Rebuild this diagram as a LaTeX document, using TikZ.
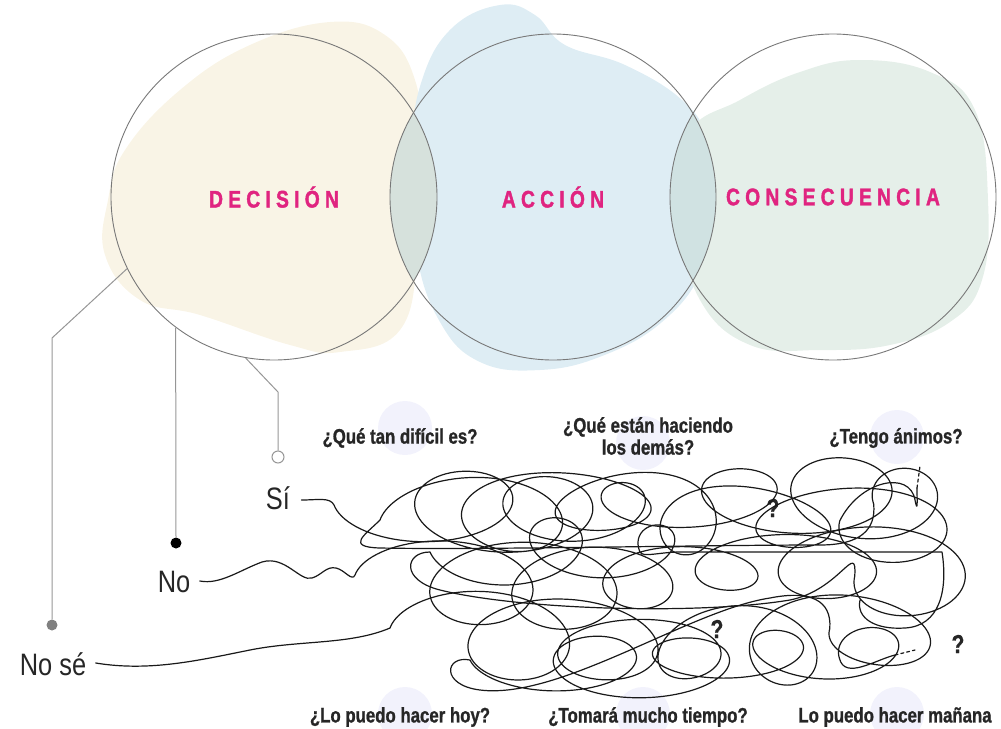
\documentclass[tikz,border=0pt]{standalone}
\usepackage{fontspec}
\setmainfont{Liberation Sans}
\newfontfamily\condfont{Liberation Sans}[FakeStretch=0.82]
\newfontfamily\qfont{Liberation Sans Bold}[FakeStretch=0.80,FakeBold=1.0]
\newfontfamily\headfont{Liberation Sans Bold}[FakeStretch=0.80,LetterSpace=22,FakeBold=1.6]
\definecolor{mag}{RGB}{224,36,128}
\definecolor{cream}{RGB}{249,244,230}
\definecolor{skyb}{RGB}{222,237,244}
\definecolor{sage}{RGB}{229,239,233}
\definecolor{lensA}{RGB}{214,225,220}
\definecolor{lensB}{RGB}{208,226,226}
\definecolor{lav}{RGB}{242,242,252}
\definecolor{leadgray}{RGB}{150,150,150}
\definecolor{ringgray}{RGB}{120,120,120}
\begin{document}
\begin{tikzpicture}[x=1pt,y=-1pt,
  ring/.style={circle,draw=ringgray,line width=0.9pt,minimum size=326pt,inner sep=0pt},
  headtxt/.style={font=\headfont\fontsize{24}{26}\selectfont,text=mag},
  qtxt/.style={font=\qfont\fontsize{21}{22}\selectfont,align=center,text=black!85},
  anstxt/.style={font=\condfont\fontsize{31}{34}\selectfont,text=black!85},
  qmark/.style={font=\qfont\fontsize{26}{28}\selectfont,text=black!85},
  leadline/.style={draw=leadgray,line width=1pt},
  tangle/.style={draw=black!90,line width=1.2pt,line join=round,line cap=round},
  bubble/.style={circle,fill=lav,minimum size=54pt,inner sep=0pt},
  dotnode/.style={circle,inner sep=0pt,minimum size=11pt}]
\useasboundingbox (0,0) rectangle (1001,728);

% soft blobs
\fill[cream] plot[smooth cycle,tension=0.7] coordinates {(330,22) (385,35) (415,80) (422,150) (418,250) (400,330) (340,352) (290,345) (200,315) (140,300) (105,255) (108,200) (125,150) (180,90) (250,45)};
\fill[skyb] plot[smooth cycle,tension=0.7] coordinates {(500,5) (535,15) (565,45) (625,65) (682,100) (708,140) (716,200) (702,270) (662,322) (602,356) (540,370) (480,362) (440,322) (416,250) (412,150) (422,80) (452,28)};
\fill[sage] plot[smooth cycle,tension=0.7] coordinates {(688,135) (740,100) (800,72) (860,60) (930,72) (975,110) (988,200) (982,280) (950,322) (890,345) (820,350) (750,345) (700,300) (680,220)};
% lenses
\begin{scope}
  \clip (274,197) circle (163pt);
  \fill[lensA] (553,197) circle (163pt);
\end{scope}
\begin{scope}
  \clip (553,197) circle (163pt);
  \fill[lensB] (833,197) circle (163pt);
\end{scope}

% circles
\node[ring,headtxt] (dec) at (274,197) {DECISIÓN};
\node[ring,headtxt] (acc) at (553,197) {ACCIÓN};
\node[ring,headtxt] (con) at (833,197) {CONSECUENCIA};

% question bubbles
\node[bubble] (b1) at (405,428) {};
\node[bubble] (b2) at (643,443) {};
\node[bubble] (b3) at (897,437) {};
\node[bubble] (b4) at (405,714) {};
\node[bubble] (b5) at (643,714) {};
\node[bubble] (b6) at (897,714) {};

% questions
\node[qtxt] (q1) at (400,438) {¿Qué tan difícil es?};
\node[qtxt] (q2) at (648,436) {¿Qué están haciendo\\los demás?};
\node[qtxt] (q3) at (896,438) {¿Tengo ánimos?};
\node[qtxt] (q4) at (400,717) {¿Lo puedo hacer hoy?};
\node[qtxt] (q5) at (648,717) {¿Tomará mucho tiempo?};
\node[qtxt] (q6) at (895,717) {Lo puedo hacer mañana};

% answers and dots
\node[dotnode,fill=gray] (nsdot) at (52,625) {};
\node[dotnode,fill=black] (nodot) at (176,543) {};
\node[dotnode,draw=leadgray,fill=white,line width=1pt,minimum size=12pt] (sidot) at (278,457) {};
\node[anstxt] (si) at (278,498) {Sí};
\node[anstxt] (no) at (174,582) {No};
\node[anstxt] (nose) at (53,664) {No sé};

\coordinate (k1) at (52,338);
\coordinate (k3) at (278,392);
\draw[leadline] (dec.206) -- (k1) -- (nsdot.north);
\draw[leadline] (dec.233) -- (nodot.north);
\draw[leadline] (dec.260) -- (k3) -- (sidot.north);

% question marks
\node[qmark] (m1) at (773,508) {?};
\node[qmark] (m2) at (717,629) {?};
\node[qmark] (m3) at (958,644) {?};

% tangle strands
\coordinate (ta) at (334,505);
\coordinate (ta2) at (380,520);
\coordinate (tb) at (355,575);
\coordinate (tb2) at (430,552);
\coordinate (tc) at (390,628);
\coordinate (tc2) at (470,660);
\coordinate (tend1) at (917,488);
\coordinate (tend3) at (895,655);

% strand from "Si"
\draw[tangle] ([xshift=8pt,yshift=-2pt]si.east) .. controls (318,500) and (330,497) .. (ta)
  -- plot[domain=0:1,samples=500,variable=\t]
   ({334+540*\t+(58+14*sin(612*\t))*(1-cos(2160*\t+40*sin(360*\t)))},
    {505+(32+8*sin(540*\t))*sin(2160*\t+40*sin(360*\t))+8*sin(360*\t)})
  .. controls (876,530) and (860,545) .. (820,545)
  .. controls (700,545) and (480,550) .. (380,548)
  .. controls (345,547) and (365,535) .. (ta2)
  -- plot[domain=0:1,samples=500,variable=\t]
   ({380+460*\t+(62+12*sin(468*\t))*(1-cos(1800*\t+40*sin(360*\t)))},
    {520-(34+8*sin(828*\t))*sin(1800*\t+40*sin(360*\t))-8*sin(360*\t)-10*sin(180*\t)})
  .. controls (860,480) and (910,470) .. (915,500)
  .. controls (918,515) and (917,500) .. (tend1);
\draw[tangle,dashed] (tend1) -- +(3,-22);

% strand from "No"
\draw[tangle] ([xshift=6pt,yshift=1pt]no.east) .. controls (220,585) and (240,570) .. (262,562)
  .. controls (285,555) and (300,582) .. (312,578)
  .. controls (322,575) and (326,566) .. (336,568)
  .. controls (345,570) and (352,582) .. (tb)
  -- plot[domain=0:1,samples=500,variable=\t]
   ({355+500*\t+(62+12*sin(504*\t))*(1-cos(2160*\t+40*sin(360*\t)))},
    {575-(34+10*sin(450*\t))*sin(2160*\t+40*sin(360*\t))+12*sin(360*\t)})
  .. controls (857,540) and (840,590) .. (790,600)
  .. controls (700,615) and (520,610) .. (440,590)
  .. controls (400,580) and (405,552) .. (tb2)
  -- plot[domain=0:1,samples=250,variable=\t]
   ({430+210*\t+(45+8*sin(360*\t))*(1-cos(720*\t+30*sin(360*\t)))},
    {552+(30+5*sin(360*\t))*sin(720*\t+30*sin(360*\t))})
  .. controls (642,558) and (660,552) .. (680,552) -- (942,552)
  .. controls (948,590) and (940,626) .. (905,628)
  .. controls (875,630) and (856,618) .. (860,600);

% strand from "No se"
\draw[tangle] ([xshift=6pt,yshift=1pt]nose.east) .. controls (150,672) and (200,660) .. (250,650)
  .. controls (300,640) and (350,645) .. (tc)
  -- plot[domain=0:1,samples=500,variable=\t]
   ({390+440*\t+(62+12*sin(432*\t))*(1-cos(1800*\t+40*sin(360*\t)))},
    {628-(36+8*sin(576*\t))*sin(1800*\t+40*sin(360*\t))+20*sin(180*\t)})
  .. controls (832,600) and (810,590) .. (770,598)
  .. controls (690,610) and (560,700) .. (480,690)
  .. controls (440,685) and (445,655) .. (tc2)
  -- plot[domain=0:1,samples=400,variable=\t]
   ({470+370*\t+(55+10*sin(360*\t))*(1-cos(1440*\t+30*sin(360*\t)))},
    {660+(26+5*sin(432*\t))*sin(1440*\t+30*sin(360*\t))+8*sin(360*\t)})
  .. controls (845,680) and (875,660) .. (tend3);
\draw[tangle,dashed] (tend3) -- +(20,-5);
\end{tikzpicture}
\end{document}
